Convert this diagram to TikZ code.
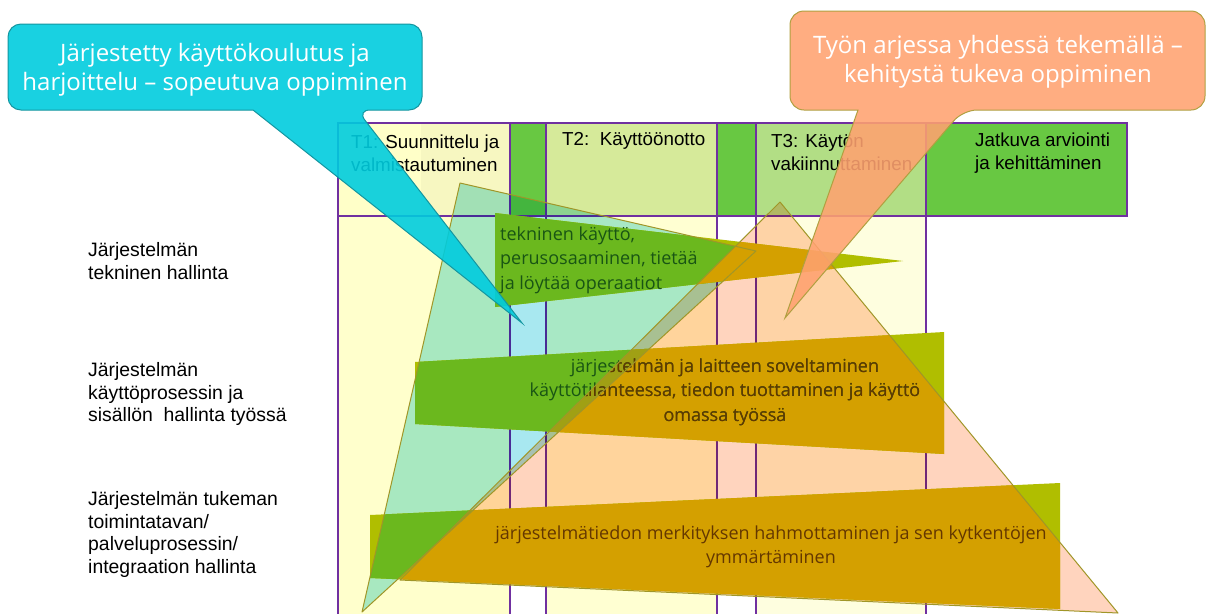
\documentclass[tikz,border=0pt]{standalone}
\usepackage{fontspec}
\setmainfont{Liberation Sans}
\newfontfamily\uifont{Open Sans}

\definecolor{colpurple}{HTML}{7030A0}
\definecolor{hdrgreen}{HTML}{6CCF45}
\definecolor{tonehdr}{HTML}{FFFFC8}
\definecolor{ttwohdr}{HTML}{DDF2A0}
\definecolor{tthreehdr}{HTML}{B8E68A}
\definecolor{tonefill}{HTML}{FFFFCC}
\definecolor{ttwofill}{HTML}{FFFFD2}
\definecolor{tthreefill}{HTML}{FEFEDF}
\definecolor{mint}{RGB}{168,232,240}
\definecolor{peach}{RGB}{255,212,190}
\definecolor{bandolive}{RGB}{176,190,0}
\definecolor{bandgreen}{RGB}{107,184,30}
\definecolor{bandgold}{RGB}{212,160,0}
\definecolor{bandmix}{RGB}{160,160,20}
\definecolor{edgeolive}{RGB}{160,150,40}
\definecolor{txtgreen}{RGB}{25,85,20}
\definecolor{txtbrown}{RGB}{100,55,0}
\definecolor{calloutcyan}{RGB}{0,204,222}
\definecolor{calloutcyanedge}{RGB}{20,150,160}
\definecolor{calloutorange}{RGB}{255,162,112}
\definecolor{calloutorangeedge}{RGB}{176,160,64}

\newcommand\hdrfont{\fontsize{18.8}{23}\selectfont}
\newcommand\rowfont{\fontsize{19.4}{22.7}\selectfont}
\newcommand\bandfont{\uifont\fontsize{18}{24.5}\selectfont}
\newcommand\calloutfont{\uifont\fontsize{24}{29}\selectfont}

\tikzset{
  colline/.style={draw=colpurple, line width=1.1pt},
  trifill/.style={fill=#1, blend mode=multiply},
  triedge/.style={draw=edgeolive, line width=1pt, line join=round},
  hdrtext/.style={font=\hdrfont, anchor=west, align=left, inner sep=0pt},
  rowlabel/.style={font=\rowfont, anchor=west, align=left, inner sep=0pt},
  bandtext/.style={font=\bandfont, inner sep=0pt},
  callouttext/.style={font=\calloutfont, text=white, align=center, inner sep=0pt},
}

\begin{document}
\begin{tikzpicture}[x=1pt,y=-1pt]
\useasboundingbox (0,0) rectangle (1207,614);
\fill[white] (0,0) rectangle (1207,614);

% phase columns
\fill[tonefill]   (338,123) rectangle (510,614);
\fill[ttwofill]   (546,216) rectangle (717,614);
\fill[tthreefill] (756,216) rectangle (926,614);
\fill[tonehdr]    (338,123) rectangle (510,216);
\fill[hdrgreen]   (510,123) rectangle (546,216);
\fill[ttwohdr]    (546,123) rectangle (717,216);
\fill[hdrgreen]   (717,123) rectangle (756,216);
\fill[tthreehdr]  (756,123) rectangle (926,216);
\fill[hdrgreen]   (926,123) rectangle (1127,216);
\fill[black, opacity=0.03] (421,123) rectangle (1127,216);
\draw[colline] (338,123) rectangle (1127,216);
\foreach \x in {338,510,546,717,756,926}
  \draw[colline] (\x,123) -- (\x,614);

% phase headings
\node[hdrtext] (hT1) at (351,153) {T1: Suunnittelu ja\\valmistautuminen};
\node[hdrtext] (hT2) at (562,141) {T2:\ \ Käyttöönotto};
\node[hdrtext] (hT3) at (771,153) {T3: Käytön\\vakiinnuttaminen};
\node[hdrtext] (hJK) at (975,153) {Jatkuva arviointi\\ja kehittäminen};

% learning triangles
\coordinate (mA) at (460,183);
\coordinate (mB) at (756,251);
\coordinate (mC) at (362,612);
\coordinate (pA) at (780,202);
\coordinate (pB) at (1118,613);
\coordinate (pC) at (400,580);
\fill[trifill=mint]  (mA) -- (mB) -- (mC) -- cycle;
\fill[trifill=peach] (pA) -- (pB) -- (pC) -- cycle;

% competence bands
\coordinate (b1a) at (495,213);
\coordinate (b1b) at (903,261);
\coordinate (b1c) at (495,307);
\coordinate (b2a) at (415,362);
\coordinate (b2b) at (944,332);
\coordinate (b2c) at (944,454);
\coordinate (b2d) at (415,424);
\coordinate (b3a) at (370,515);
\coordinate (b3b) at (1060,483);
\coordinate (b3c) at (1060,609);
\coordinate (b3d) at (370,578);

\fill[bandolive] (b1a) -- (b1b) -- (b1c) -- cycle;
\fill[bandolive] (b2a) -- (b2b) -- (b2c) -- (b2d) -- cycle;
\fill[bandolive] (b3a) -- (b3b) -- (b3c) -- (b3d) -- cycle;
\begin{scope}
  \clip (mA) -- (mB) -- (mC) -- cycle;
  \fill[bandgreen] (b1a) -- (b1b) -- (b1c) -- cycle;
  \fill[bandgreen] (b2a) -- (b2b) -- (b2c) -- (b2d) -- cycle;
  \fill[bandgreen] (b3a) -- (b3b) -- (b3c) -- (b3d) -- cycle;
\end{scope}
\begin{scope}
  \clip (pA) -- (pB) -- (pC) -- cycle;
  \fill[bandgold] (b1a) -- (b1b) -- (b1c) -- cycle;
  \fill[bandgold] (b2a) -- (b2b) -- (b2c) -- (b2d) -- cycle;
  \fill[bandgold] (b3a) -- (b3b) -- (b3c) -- (b3d) -- cycle;
\end{scope}
\begin{scope}
  \clip (mA) -- (mB) -- (mC) -- cycle;
  \clip (pA) -- (pB) -- (pC) -- cycle;
  \fill[bandmix] (b2a) -- (b2b) -- (b2c) -- (b2d) -- cycle;
  \fill[bandmix] (b3a) -- (b3b) -- (b3c) -- (b3d) -- cycle;
\end{scope}

% band texts
\node[bandtext, text=txtgreen, anchor=west, align=left] (bt1) at (500,260)
  {tekninen käyttö,\\perusosaaminen, tietää\\ja löytää operaatiot};
\node[bandtext, text=txtgreen, align=center] (bt2) at (725,392)
  {järjestelmän ja laitteen soveltaminen\\käyttötilanteessa, tiedon tuottaminen ja käyttö\\omassa työssä};
\begin{scope}
  \clip (pA) -- (pB) -- (pC) -- cycle;
  \node[bandtext, text=txtbrown, align=center] (bt2b) at (725,392)
    {järjestelmän ja laitteen soveltaminen\\käyttötilanteessa, tiedon tuottaminen ja käyttö\\omassa työssä};
\end{scope}
\node[bandtext, text=txtbrown, align=center] (bt3) at (771,547)
  {järjestelmätiedon merkityksen hahmottaminen ja sen kytkentöjen\\ymmärtäminen};

% triangle outlines
\draw[triedge] (mA) -- (mB) -- (mC) -- cycle;
\draw[triedge] (pA) -- (pB) -- (pC) -- cycle;

% row labels
\node[rowlabel] (r1) at (88,261) {Järjestelmän\\tekninen hallinta};
\node[rowlabel] (r2) at (88,394) {Järjestelmän\\käyttöprosessin ja\\sisällön\ \ hallinta työssä};
\node[rowlabel] (r3) at (88,534.5) {Järjestelmän tukeman\\toimintatavan/\\palveluprosessin/\\integraation hallinta};

% callouts
\filldraw[fill=calloutcyan, fill opacity=0.9, draw=calloutcyanedge, line width=1pt]
  (8,67) [rounded corners=13pt] -- (8,24) -- (422,24) -- (422,110) -- (357,110)
  [sharp corners] -- (522,323) -- (253,110) [rounded corners=13pt] -- (8,110) -- cycle;
\node[callouttext] (cL) at (215,70)
  {Järjestetty käyttökoulutus ja\\harjoittelu – sopeutuva oppiminen};

\filldraw[fill=calloutorange, fill opacity=0.88, draw=calloutorangeedge, line width=1pt]
  (790,60) [rounded corners=14pt] -- (790,11) -- (1205,11) -- (1205,110) -- (963,110)
  [sharp corners] -- (785,318) -- (858,110) [rounded corners=14pt] -- (790,110) -- cycle;
\node[callouttext] (cR) at (998,62)
  {Työn arjessa yhdessä tekemällä –\\kehitystä tukeva oppiminen};
\end{tikzpicture}
\end{document}
